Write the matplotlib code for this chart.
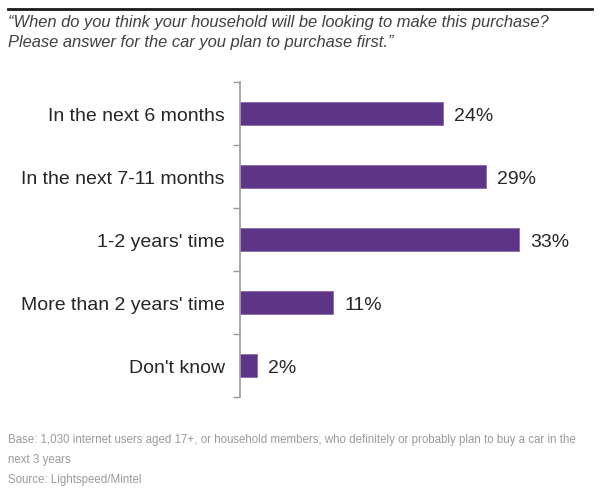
import matplotlib
matplotlib.use("Agg")
import matplotlib.pyplot as plt

# Data
categories = ["In the next 6 months", "In the next 7-11 months", "1-2 years' time",
              "More than 2 years' time", "Don't know"]
values = [24, 29, 33, 11, 2]
value_labels = ["24%", "29%", "33%", "11%", "2%"]

title_lines = ["\u201cWhen do you think your household will be looking to make this purchase?",
               "Please answer for the car you plan to purchase first.\u201d"]
footer_lines = ["Base: 1,030 internet users aged 17+, or household members, who definitely or probably plan to buy a car in the",
                "next 3 years",
                "Source: Lightspeed/Mintel"]

plt.rcParams['font.family'] = ['Liberation Sans', 'DejaVu Sans']

W, H = 600, 502
fig = plt.figure(figsize=(W / 100, H / 100), dpi=100)

# axes placement in pixels
left, right, top, bottom = 240, 560, 83, 398
ax = fig.add_axes([left / W, 1 - bottom / H, (right - left) / W, (bottom - top) / H])

purple = "#5E3487"
pos = list(range(len(categories)))
ax.barh(pos, values, height=0.35, color=purple, edgecolor="#8a6aab", linewidth=0.6)

ax.set_ylim(len(categories) - 0.5, -0.5)
ax.set_xlim(0, 37.8)

for p, v, lab in zip(pos, values, value_labels):
    ax.annotate(lab, (v, p), xytext=(8, 0), textcoords="offset points",
                va="center_baseline", ha="left", fontsize=14, color="#262626")

ax.set_yticks(pos)
ax.set_yticklabels(categories, fontsize=14, color="#262626")
ax.tick_params(axis="y", which="major", length=0, pad=11)
ax.set_yticks([p - 0.5 for p in pos] + [len(categories) - 0.5], minor=True)
ax.tick_params(axis="y", which="minor", length=5, color="#9a9a9a", width=1)
ax.set_xticks([])

for s in ["top", "right", "bottom"]:
    ax.spines[s].set_visible(False)
ax.spines["left"].set_color("#9a9a9a")
ax.spines["left"].set_linewidth(1.2)

# top rule
fig.add_artist(plt.Line2D([8 / W, 592 / W], [1 - 10 / H, 1 - 10 / H],
                          color="#1a1a1a", linewidth=2))

# question text
for i, line in enumerate(title_lines):
    fig.text(8 / W, 1 - (22 + i * 20) / H, line, fontsize=11.9, style="italic",
             color="#404040", va="center", ha="left")

# footer
for i, line in enumerate(footer_lines):
    fig.text(8 / W, 1 - (440 + i * 20) / H, line, fontsize=8.3, color="#9a9a9a",
             va="center", ha="left")

fig.savefig("out.png", dpi=100)
